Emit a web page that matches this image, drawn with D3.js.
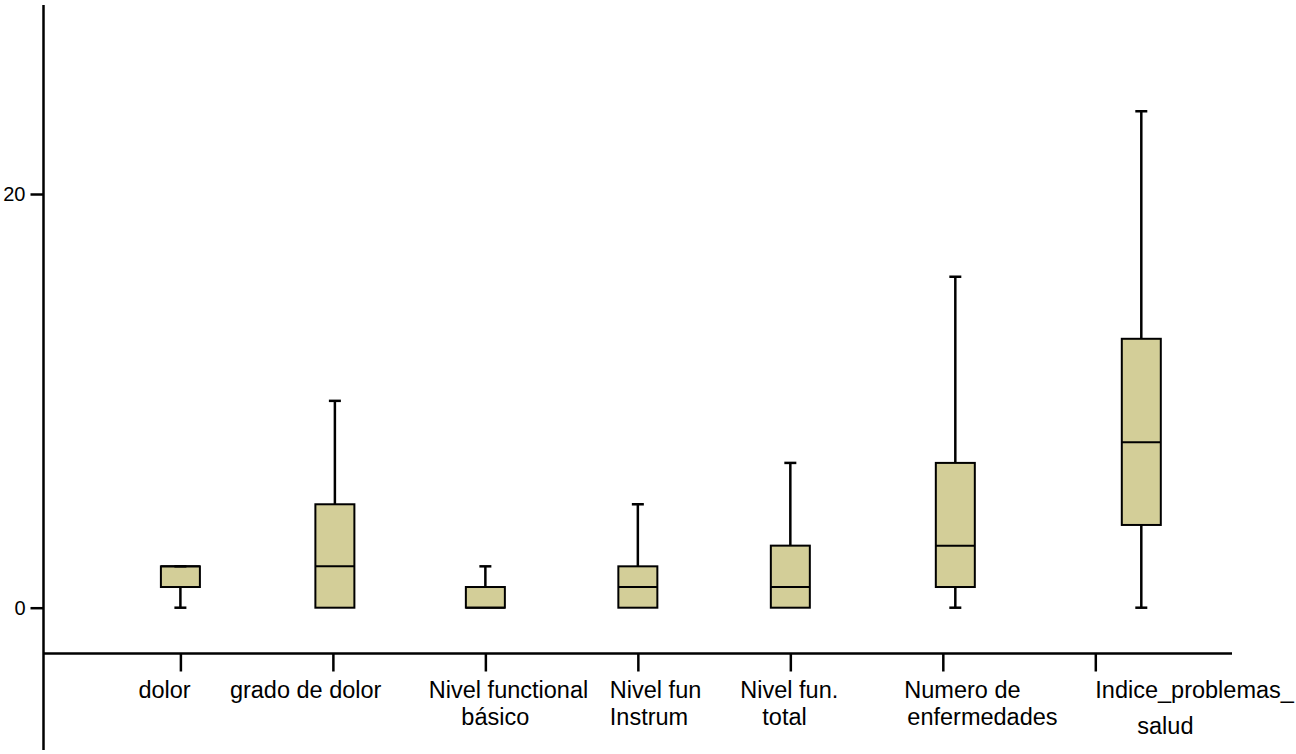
<!DOCTYPE html>
<html>
<head>
<meta charset="utf-8">
<script src="https://cdn.jsdelivr.net/npm/d3@7"></script>
<style>
  html, body { margin: 0; padding: 0; background: #ffffff; }
  svg { display: block; }
  text { font-family: "Liberation Sans", Arial, sans-serif; fill: #000; }
</style>
</head>
<body>
<svg id="chart" width="1296" height="754"></svg>
<script>
// Box-plot summaries per variable
const categories = [
  "dolor",
  "grado de dolor",
  "Nivel functional básico",
  "Nivel fun Instrum",
  "Nivel fun. total",
  "Numero de enfermedades",
  "Indice_problemas_salud"
];
const minValues    = [0, 0, 0, 0, 0, 0, 0];
const q1Values     = [1, 0, 0, 0, 0, 1, 4];
const medianValues = [2, 2, 0, 1, 1, 3, 8];
const q3Values     = [2, 5, 1, 2, 3, 7, 13];
const maxValues    = [2, 10, 2, 5, 7, 16, 24];

// Axis tick labels
const yTickValues = [0, 20];
const categoryLabelLines = [
  ["dolor"],
  ["grado de dolor"],
  ["Nivel functional", "básico"],
  ["Nivel fun", "Instrum"],
  ["Nivel fun.", "total"],
  ["Numero de", "enfermedades"],
  ["Indice_problemas_", "salud"]
];

// Layout: horizontal nudges of boxes and label placements relative to each tick
const boxNudge = [0, 2, 0, 0, 0, 12.5, 46];
const labelLayout = [
  [{ dx: -42,   y: 698 }],
  [{ dx: -103,  y: 698 }],
  [{ dx: -56.5, y: 698 }, { dx: -24,  y: 725 }],
  [{ dx: -28,   y: 698 }, { dx: -28,  y: 725 }],
  [{ dx: -50,   y: 698 }, { dx: -28,  y: 725 }],
  [{ dx: -38.5, y: 698 }, { dx: -35.5, y: 725 }],
  [{ dx: 0,     y: 698 }, { dx: 42,   y: 734 }]
];

const svg = d3.select("#chart");
const boxFill = "#d3ce98";
const boxWidth = 39;
const capWidth = 12;

const axisX = 43.5;
const axisY = 653.5;

const x = d3.scalePoint().domain(categories).range([180.4, 1095.3]);
const y = d3.scaleLinear().domain([0, 20]).range([607.7, 194]);

const rows = categories.map((c, i) => ({
  cat: c,
  i,
  min: minValues[i],
  q1: q1Values[i],
  med: medianValues[i],
  q3: q3Values[i],
  max: maxValues[i],
  cx: x(c) + boxNudge[i]
}));

// Y axis
svg.append("line")
  .attr("x1", axisX).attr("x2", axisX)
  .attr("y1", 5).attr("y2", 750)
  .attr("stroke", "#000").attr("stroke-width", 2.5);

const yAxis = svg.append("g")
  .attr("transform", `translate(${axisX},0)`)
  .call(d3.axisLeft(y).tickValues(yTickValues).tickSize(13).tickPadding(5).tickFormat(d3.format("d")));
yAxis.select(".domain").remove();
yAxis.selectAll(".tick line").attr("stroke", "#000").attr("stroke-width", 2.5);
yAxis.selectAll(".tick text")
  .style("font-size", "20px")
  .style("font-family", "'Liberation Sans', Arial, sans-serif")
  .attr("fill", "#000");

// X axis
svg.append("line")
  .attr("x1", axisX).attr("x2", 1232)
  .attr("y1", axisY).attr("y2", axisY)
  .attr("stroke", "#000").attr("stroke-width", 2.5);

const xAxis = svg.append("g")
  .attr("transform", `translate(0,${axisY})`)
  .call(d3.axisBottom(x).tickSize(18).tickFormat(""));
xAxis.select(".domain").remove();
xAxis.selectAll(".tick line").attr("stroke", "#000").attr("stroke-width", 2.5);

// Category labels
const labels = svg.append("g");
rows.forEach(r => {
  categoryLabelLines[r.i].forEach((line, k) => {
    const pos = labelLayout[r.i][k];
    labels.append("text")
      .attr("x", x(r.cat) + pos.dx)
      .attr("y", pos.y)
      .attr("text-anchor", "start")
      .style("font-size", "23.5px")
      .text(line);
  });
});

// Boxes
const g = svg.append("g");
const box = g.selectAll("g.box").data(rows).join("g").attr("class", "box");

// whiskers
box.filter(d => d.max > d.q3).append("line")
  .attr("x1", d => d.cx).attr("x2", d => d.cx)
  .attr("y1", d => y(d.q3)).attr("y2", d => y(d.max))
  .attr("stroke", "#000").attr("stroke-width", 2.5);
box.filter(d => d.min < d.q1).append("line")
  .attr("x1", d => d.cx).attr("x2", d => d.cx)
  .attr("y1", d => y(d.q1)).attr("y2", d => y(d.min))
  .attr("stroke", "#000").attr("stroke-width", 2.5);

// box body
box.append("rect")
  .attr("x", d => d.cx - boxWidth / 2)
  .attr("width", boxWidth)
  .attr("y", d => y(d.q3))
  .attr("height", d => y(d.q1) - y(d.q3))
  .attr("fill", boxFill)
  .attr("stroke", "#000")
  .attr("stroke-width", 2);

// median
box.append("line")
  .attr("x1", d => d.cx - boxWidth / 2).attr("x2", d => d.cx + boxWidth / 2)
  .attr("y1", d => y(d.med)).attr("y2", d => y(d.med))
  .attr("stroke", "#000").attr("stroke-width", 2);

// caps
box.append("line")
  .attr("x1", d => d.cx - capWidth / 2).attr("x2", d => d.cx + capWidth / 2)
  .attr("y1", d => y(d.max)).attr("y2", d => y(d.max))
  .attr("stroke", "#000").attr("stroke-width", 2.5);
box.filter(d => d.min < d.q1).append("line")
  .attr("x1", d => d.cx - capWidth / 2).attr("x2", d => d.cx + capWidth / 2)
  .attr("y1", d => y(d.min)).attr("y2", d => y(d.min))
  .attr("stroke", "#000").attr("stroke-width", 2.5);
</script>
</body>
</html>
